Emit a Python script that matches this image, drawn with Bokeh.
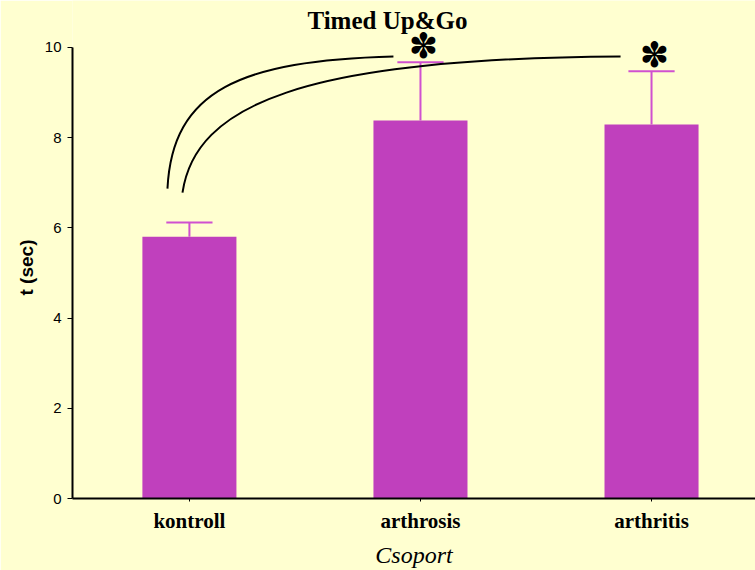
from bokeh.plotting import figure
from bokeh.models import FixedTicker, Range1d, Title, Label
from bokeh.core.properties import value
from bokeh.embed import file_html
from bokeh.resources import INLINE

# ---- data ----
groups = ["kontroll", "arthrosis", "arthritis"]
means = [5.8, 8.38, 8.29]          # t (sec)
upper = [6.12, 9.67, 9.47]         # mean + error
y_ticks = [0, 2, 4, 6, 8, 10]
significant = [False, True, True]

# significance connector curves (cubic bezier, data coords): x0,y0,cx0,cy0,cx1,cy1,x1,y1
curve_x0 = [-0.095, -0.030]
curve_y0 = [6.87, 6.78]
curve_cx0 = [-0.074, 0.026]
curve_cy0 = [9.05, 8.71]
curve_cx1 = [0.221, 0.481]
curve_cy1 = [9.71, 9.76]
curve_x1 = [0.883, 1.866]
curve_y1 = [9.80, 9.80]

BG = "#FFFFD0"
BAR = "#C040BD"
ERR = "#D050D0"

xs = list(range(len(groups)))

p = figure(width=755, height=570, output_backend="svg", toolbar_location=None,
           x_range=Range1d(-0.506, 2.45), y_range=Range1d(0, 11.04),
           min_border_left=72, min_border_right=0, min_border_top=0, min_border_bottom=72)
p.background_fill_color = BG
p.border_fill_color = BG
p.outline_line_color = None
p.grid.visible = False

p.vbar(x=xs, top=means, width=0.407, bottom=0, fill_color=BAR, line_color=None)
p.segment(x0=xs, y0=means, x1=xs, y1=upper, line_color=ERR, line_width=2)
p.segment(x0=[x - 0.1 for x in xs], y0=upper, x1=[x + 0.1 for x in xs], y1=upper,
          line_color=ERR, line_width=2)

p.bezier(x0=curve_x0, y0=curve_y0, cx0=curve_cx0, cy0=curve_cy0,
         cx1=curve_cx1, cy1=curve_cy1, x1=curve_x1, y1=curve_y1,
         line_color="black", line_width=2)

sx = [x for x, s in zip(xs, significant) if s]
sy = [u for u, s in zip(upper, significant) if s]
p.text(x=sx, y=sy, text=["✽"] * len(sx), text_align="center", text_baseline="bottom",
       text_font=value("DejaVu Sans"), text_font_size="35px", text_color="black",
       x_offset=3, y_offset=4)

p.add_layout(Label(x=0.857, y=10.6, text="Timed Up&Go", text_align="center",
                   text_baseline="middle", text_font="Liberation Serif",
                   text_font_style="bold", text_font_size="25px", text_color="black"))

# y axis
ya = p.yaxis[0]
ya.ticker = FixedTicker(ticks=y_ticks)
ya.bounds = (0, 10)
ya.major_label_text_font = "Liberation Sans"
ya.major_label_text_font_size = "15px"
ya.major_label_text_color = "black"
ya.major_label_standoff = 6
ya.major_tick_in = 0
ya.major_tick_out = 5
ya.minor_tick_line_color = None
ya.axis_line_width = 2
ya.axis_line_color = "black"
ya.major_tick_line_color = "black"
p.add_layout(Title(text="t (sec)", align="left", offset=203, text_font="Liberation Sans",
                   text_font_style="bold", text_font_size="19px", text_color="black"), "left")

# x axis
xa = p.xaxis[0]
xa.ticker = FixedTicker(ticks=xs)
xa.major_label_overrides = {i: g for i, g in zip(xs, groups)}
xa.major_label_text_font = "Liberation Serif"
xa.major_label_text_font_style = "bold"
xa.major_label_text_font_size = "21px"
xa.major_label_text_color = "black"
xa.major_label_standoff = 7
xa.major_tick_in = 0
xa.major_tick_out = 3
xa.minor_tick_line_color = None
xa.axis_line_width = 2
xa.axis_line_color = "black"
xa.major_tick_line_color = "black"
xa.axis_label = "Csoport"
xa.axis_label_text_font = "Liberation Serif"
xa.axis_label_text_font_style = "italic"
xa.axis_label_text_font_size = "24px"
xa.axis_label_text_color = "black"
xa.axis_label_standoff = 6

open("out.html", "w").write(file_html(p, INLINE))
